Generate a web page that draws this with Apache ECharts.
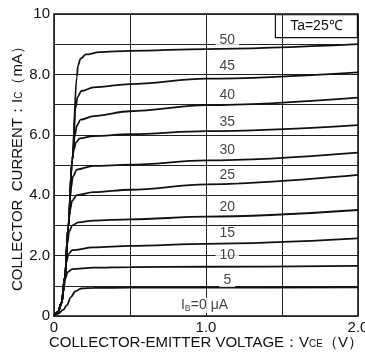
<!DOCTYPE html>
<html>
<head>
<meta charset="utf-8">
<script src="https://cdn.jsdelivr.net/npm/echarts@6/dist/echarts.min.js"></script>
<style>
  html, body { margin: 0; padding: 0; background: #fff; }
  #main { width: 365px; height: 352px; }
</style>
</head>
<body>
<div id="main"></div>
<script>
// base current IB (uA) for each curve
const ibNames = ["5", "10", "15", "20", "25", "30", "35", "40", "45", "50"];

// [VCE (V), IC (mA)] points
const curve5 = [[0, 0], [0.03, 0.08], [0.06, 0.2], [0.085, 0.36], [0.11, 0.62], [0.14, 0.82], [0.18, 0.91], [0.26, 0.93], [0.5, 0.94], [1.0, 0.94], [2.0, 0.95]];
const curve10 = [[0, 0], [0.026, 0.13], [0.05, 0.43], [0.065, 0.95], [0.075, 1.25], [0.09, 1.45], [0.12, 1.55], [0.26, 1.6], [0.5, 1.62], [1.0, 1.63], [2.0, 1.66]];
const curve15 = [[0, 0], [0.026, 0.13], [0.05, 0.43], [0.072, 1.3], [0.082, 1.8], [0.095, 2.05], [0.12, 2.18], [0.26, 2.27], [0.5, 2.32], [1.0, 2.39], [2.0, 2.57]];
const curve20 = [[0, 0], [0.026, 0.13], [0.05, 0.43], [0.072, 1.3], [0.088, 2.4], [0.1, 2.8], [0.12, 3.0], [0.16, 3.1], [0.26, 3.16], [0.5, 3.2], [1.0, 3.29], [2.0, 3.51]];
const curve25 = [[0, 0], [0.026, 0.13], [0.05, 0.43], [0.072, 1.3], [0.094, 2.96], [0.105, 3.5], [0.12, 3.82], [0.15, 4.0], [0.26, 4.1], [0.5, 4.18], [1.0, 4.36], [2.0, 4.67]];
const curve30 = [[0, 0], [0.026, 0.13], [0.05, 0.43], [0.072, 1.3], [0.094, 2.96], [0.11, 4.2], [0.125, 4.62], [0.15, 4.85], [0.26, 4.97], [0.5, 5.01], [1.0, 5.15], [2.0, 5.41]];
const curve35 = [[0, 0], [0.026, 0.13], [0.05, 0.43], [0.072, 1.3], [0.094, 2.96], [0.12, 5.17], [0.13, 5.5], [0.145, 5.75], [0.17, 5.88], [0.26, 5.96], [0.5, 6.02], [1.0, 6.12], [2.0, 6.32]];
const curve40 = [[0, 0], [0.026, 0.13], [0.05, 0.43], [0.072, 1.3], [0.094, 2.96], [0.12, 5.17], [0.138, 6.0], [0.15, 6.3], [0.175, 6.5], [0.26, 6.62], [0.5, 6.78], [1.0, 6.98], [2.0, 7.23]];
const curve45 = [[0, 0], [0.026, 0.13], [0.05, 0.43], [0.072, 1.3], [0.094, 2.96], [0.12, 5.17], [0.142, 6.9], [0.155, 7.25], [0.18, 7.45], [0.26, 7.57], [0.5, 7.68], [1.0, 7.86], [2.0, 8.07]];
const curve50 = [[0, 0], [0.026, 0.13], [0.05, 0.43], [0.072, 1.3], [0.094, 2.96], [0.12, 5.17], [0.15, 7.92], [0.158, 8.3], [0.175, 8.52], [0.21, 8.66], [0.3, 8.74], [0.5, 8.78], [1.0, 8.84], [2.0, 9.0]];
const curves = [curve5, curve10, curve15, curve20, curve25, curve30, curve35, curve40, curve45, curve50];

// where the IB labels sit
const labelV = [1.14, 1.14, 1.14, 1.14, 1.14, 1.14, 1.14, 1.14, 1.14, 1.14];
const labelI = [1.19, 2.0, 2.74, 3.62, 4.65, 5.5, 6.43, 7.32, 8.26, 9.14];
const zeroLabel = [0.99, 0.36];

// tick labels
const xTickLabels = { 0: "0", 1: "1.0", 2: "2.0" };
const yTickLabels = { 0: "0", 2: "2.0", 4: "4.0", 6: "6.0", 8: "8.0", 10: "10" };

const FONT = "Liberation Sans, Arial, sans-serif";
const chart = echarts.init(document.getElementById("main"));

const series = curves.map((pts, i) => ({
  name: ibNames[i],
  type: "line",
  data: pts,
  smooth: 0.35,
  smoothMonotone: "x",
  showSymbol: false,
  symbol: "none",
  silent: true,
  z: 3,
  lineStyle: { color: "#111", width: 1.8 },
}));

// labels of the curves
series.push({
  type: "scatter",
  symbolSize: 0,
  silent: true,
  z: 5,
  data: ibNames.map((n, i) => ({ value: [labelV[i], labelI[i]], name: n }))
    .concat([{ value: zeroLabel, name: "zero" }]),
  label: {
    show: true,
    position: "inside",
    formatter: (p) => (p.name === "zero" ? "I{sub|B}=0 μA" : p.name),
    color: "#111",
    fontSize: 14,
    fontFamily: FONT,
    backgroundColor: "#fff",
    padding: [0, 4],
    rich: { sub: { fontSize: 9, fontFamily: FONT, color: "#111", padding: [6, 0, 0, 0] } },
  },
});

const option = {
  backgroundColor: "#fff",
  animation: false,
  grid: {
    left: 54, right: 7, top: 14, bottom: 36,
    containLabel: false,
    outerBoundsMode: "none",
    show: true, borderColor: "#111", borderWidth: 1.5,
  },
  xAxis: {
    type: "value",
    min: 0, max: 2, interval: 0.5,
    axisLine: { show: false },
    axisTick: { show: false },
    axisLabel: {
      color: "#111", fontSize: 15, fontFamily: FONT, margin: 4,
      formatter: (v) => (xTickLabels[v] !== undefined ? xTickLabels[v] : ""),
    },
    splitLine: { show: true, lineStyle: { color: "#222", width: 1 } },
    name: "COLLECTOR-EMITTER VOLTAGE：V{sub|CE}（V）",
    nameLocation: "middle",
    nameGap: 19,
    nameMoveOverlap: false,
    nameTextStyle: {
      color: "#111", fontSize: 15, fontFamily: FONT,
      rich: { sub: { fontSize: 10, fontFamily: FONT, color: "#111", padding: [4, 0, 0, 0] } },
    },
  },
  yAxis: {
    type: "value",
    min: 0, max: 10, interval: 1,
    axisLine: { show: false },
    axisTick: { show: false },
    axisLabel: {
      color: "#111", fontSize: 15, fontFamily: FONT, margin: 4,
      formatter: (v) => (yTickLabels[v] !== undefined ? yTickLabels[v] : ""),
    },
    splitLine: { show: true, lineStyle: { color: "#222", width: 1 } },
    name: "COLLECTOR  CURRENT：I{sub|C}（mA）",
    nameLocation: "middle",
    nameGap: 29,
    nameMoveOverlap: false,
    nameTextStyle: {
      color: "#111", fontSize: 15, fontFamily: FONT,
      rich: { sub: { fontSize: 10, fontFamily: FONT, color: "#111", padding: [4, 0, 0, 0] } },
    },
  },
  graphic: [
    {
      type: "group",
      right: 7,
      top: 14,
      children: [
        { type: "rect", shape: { x: 0, y: 0, width: 82, height: 23 }, style: { fill: "#fff", stroke: "#111", lineWidth: 1.2 } },
        { type: "text", x: 41, y: 12, style: { text: "Ta=25℃", fill: "#111", font: "14px " + FONT, align: "center", verticalAlign: "middle" } },
      ],
    },
  ],
  series: series,
};

chart.setOption(option);
</script>
</body>
</html>
